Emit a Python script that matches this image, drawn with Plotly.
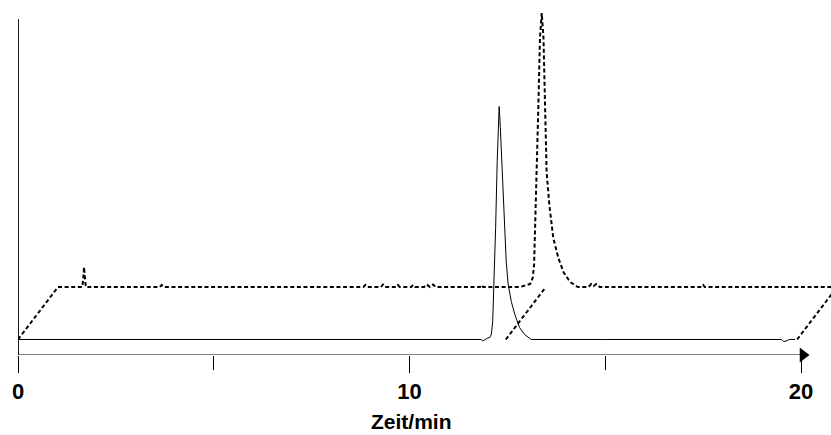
import plotly.graph_objects as go

# ---- data (time in min, signal in a.u.) ----
solid_time = [0.0, 2.0, 5.0, 8.0, 10.0, 11.60, 11.83, 11.87, 11.92, 12.00, 12.05, 12.09, 12.125,
              12.15, 12.20, 12.24, 12.29, 12.32, 12.40, 12.47, 12.52, 12.60, 12.69, 12.81, 12.94,
              13.03, 13.11, 15.0, 17.0, 19.0, 19.50, 19.56, 19.62, 19.70, 19.85]
solid_signal = [0, 0, 0, 0, 0, 0, 0, -1.5, 0, 1.5, 2, 5, 18,
                45, 112, 178, 233, 212, 145, 78, 55, 38, 25, 12, 5,
                2, 0, 0, 0, 0, 0, -2, -1.5, 0, 0]

dashed_time = [0.0, 0.62, 0.645, 0.665, 0.68, 0.695, 0.71, 2.60, 2.65, 2.70, 7.80, 7.85, 7.90,
               8.25, 8.30, 8.35, 8.63, 8.68, 8.73, 9.02, 9.07, 9.12, 9.35, 9.42, 9.50, 9.58, 9.65,
               10.78, 10.82, 10.86, 11.80, 12.06, 12.125, 12.16, 12.18, 12.23, 12.27, 12.31,
               12.355, 12.40, 12.44, 12.48, 12.55, 12.65, 12.78, 12.91, 13.08, 13.28, 13.55,
               13.62, 13.68, 13.75, 13.84, 16.44, 16.48, 16.52, 19.90]
dashed_signal = [0, 0, 8, 20, 13, 7, 0, 0, 2, 0, 0, 2, 0,
                 0, 2.5, 0, 0, 2, 0, 0, 2, 0, 0, 2.5, 0, 2.5, 0,
                 0, 2, 0, 0, 3, 9, 22, 49, 115, 182, 249,
                 274, 249, 182, 115, 82, 49, 29, 15, 5, 0, 0,
                 3, 1, 3, 0, 0, 2, 0, 0]

connector_time = [0.0, 12.46, 19.90]   # positions of the dashed perspective connectors

tick_values = [0, 10, 20]
tick_labels = ["0", "10", "20"]
minor_ticks = [5, 15]
x_title = "Zeit/min"

# ---- perspective offset of the rear trace ----
depth_dx = 1.022   # min
depth_dy = 52.5    # a.u.

rear_x = [t + depth_dx for t in dashed_time]
rear_y = [v + depth_dy for v in dashed_signal]

conn_x, conn_y = [], []
for t in connector_time:
    conn_x += [t, t + depth_dx, None]
    conn_y += [0, depth_dy, None]

y_lo, y_hi = -15.5, 339.5
x_hi = 20.766
axis_top = 320.5
FONT = "Liberation Sans, Arial"

DASH = "4px,2.6px"
fig = go.Figure()
fig.add_trace(go.Scatter(x=solid_time, y=solid_signal, mode="lines",
                         line=dict(color="black", width=1), showlegend=False))
fig.add_trace(go.Scatter(x=rear_x, y=rear_y, mode="lines",
                         line=dict(color="black", width=2, dash=DASH), showlegend=False))
fig.add_trace(go.Scatter(x=conn_x, y=conn_y, mode="lines",
                         line=dict(color="black", width=2, dash=DASH), showlegend=False))
# axis arrow head
fig.add_trace(go.Scatter(x=[20.05], y=[y_lo], mode="markers", cliponaxis=False,
                         marker=dict(symbol="triangle-right", size=13, color="black"),
                         showlegend=False))

fig.add_shape(type="line", xref="x", yref="y", x0=0, x1=20.0, y0=y_lo, y1=y_lo,
              line=dict(color="black", width=1))
fig.add_shape(type="line", xref="x", yref="y", x0=0, x1=0, y0=y_lo, y1=axis_top,
              line=dict(color="black", width=1.8))

fig.add_annotation(text="<b>" + x_title + "</b>", x=10.05, xref="x", y=0, yref="paper",
                   yanchor="top", yshift=-53, showarrow=False,
                   font=dict(family=FONT, size=21, color="black"))

fig.update_layout(
    width=831, height=435,
    margin=dict(l=18, r=0, t=0, b=80, autoexpand=False),
    paper_bgcolor="white", plot_bgcolor="white",
    hovermode=False,
    xaxis=dict(range=[0, x_hi], showgrid=False, zeroline=False, showline=False,
               automargin=False, fixedrange=True,
               tickmode="array", tickvals=tick_values, ticktext=["<b>%s</b>" % s for s in tick_labels],
               ticks="outside", ticklen=17, tickwidth=1, tickcolor="black",
               ticklabelstandoff=0,
               tickfont=dict(family=FONT, size=22, color="black"),
               minor=dict(tickmode="array", tickvals=minor_ticks, ticks="outside",
                          ticklen=14, tickwidth=1, tickcolor="black")),
    yaxis=dict(range=[y_lo, y_hi], showgrid=False, zeroline=False, showline=False,
               automargin=False, fixedrange=True, showticklabels=False, ticks=""),
)

fig.write_html("out.html", config={"displayModeBar": False},
               post_script="document.body.style.margin='0px';document.body.style.overflow='hidden';")
